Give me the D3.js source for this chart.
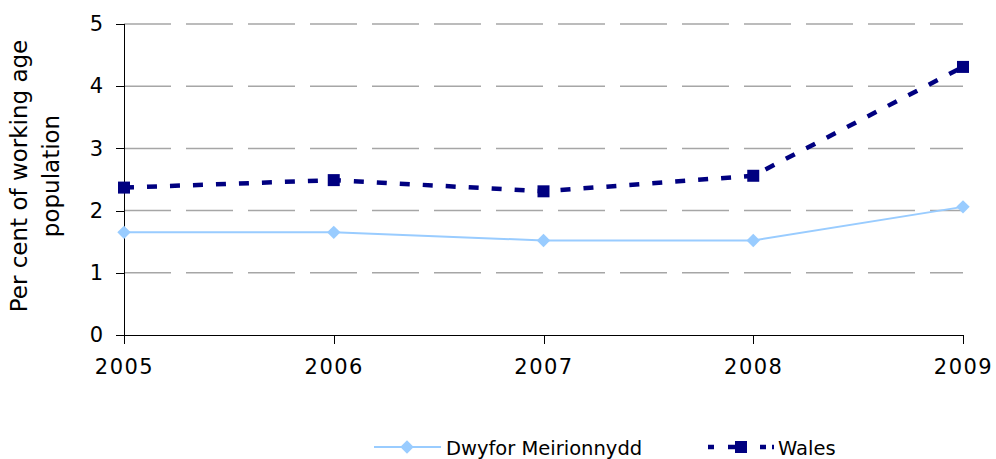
<!DOCTYPE html>
<html>
<head>
<meta charset="utf-8">
<script src="https://d3js.org/d3.v7.min.js"></script>
<style>
  body { margin: 0; background: #fff; }
  svg text { font-family: "DejaVu Sans", Verdana, sans-serif; fill: #000; }
  .grid line { stroke: #a6a6a6; stroke-width: 1.5; stroke-dasharray: 47,15; }
  .axis path, .axis line { stroke: #000; stroke-width: 1; shape-rendering: crispEdges; }
</style>
</head>
<body>
<svg id="chart" width="996" height="459"></svg>
<script>
// chart data
var years = ["2005", "2006", "2007", "2008", "2009"];
var dwyfor = [1.65, 1.65, 1.52, 1.52, 2.06];
var wales = [2.37, 2.49, 2.31, 2.56, 4.31];
var yTicks = [0, 1, 2, 3, 4, 5];

var svg = d3.select("#chart");
var plotL = 124, plotR = 963, plotT = 24, plotB = 335;

var x = d3.scalePoint().domain(years).range([plotL, plotR]);
var y = d3.scaleLinear().domain([0, 5]).range([plotB, plotT]);

// gridlines
svg.append("g").attr("class", "grid")
  .selectAll("line").data(yTicks.slice(1)).enter().append("line")
  .attr("x1", plotL).attr("x2", plotR)
  .attr("y1", function(d) { return y(d); })
  .attr("y2", function(d) { return y(d); });

// axes
var yAxis = svg.append("g").attr("class", "axis")
  .attr("transform", "translate(" + plotL + ",0)")
  .call(d3.axisLeft(y).tickValues(yTicks).tickFormat(d3.format("d"))
    .tickSize(8).tickPadding(13).tickSizeOuter(0));
yAxis.selectAll("text").style("font-size", "21px");

var xAxis = svg.append("g").attr("class", "axis")
  .attr("transform", "translate(0," + plotB + ")")
  .call(d3.axisBottom(x).tickSize(9).tickPadding(15).tickSizeOuter(0));
xAxis.select(".domain").attr("d", "M" + (plotL - 8) + ",0.5H" + plotR);
xAxis.selectAll("text").style("font-size", "21px").style("letter-spacing", "1.5px");
yAxis.select(".domain").attr("d", "M0.5," + plotT + "V" + (plotB + 9));

// y title
var title = svg.append("text")
  .attr("transform", "translate(0,176) rotate(-90)")
  .attr("text-anchor", "middle")
  .style("font-size", "23px");
title.append("tspan").attr("x", 0).attr("y", 27).text("Per cent of working age");
title.append("tspan").attr("x", 0).attr("y", 59).text("population");

// lines
var lineGen = function(vals) {
  return d3.line()
    .x(function(d, i) { return x(years[i]); })
    .y(function(d) { return y(d); })(vals);
};

svg.append("path")
  .attr("d", lineGen(dwyfor))
  .attr("fill", "none").attr("stroke", "#99ccff").attr("stroke-width", 2);

svg.append("path")
  .attr("d", lineGen(wales))
  .attr("fill", "none").attr("stroke", "#000080").attr("stroke-width", 4.5)
  .attr("stroke-dasharray", "10,13");

var diamond = d3.symbol().type(d3.symbolSquare).size(90);
svg.selectAll(".dmark").data(dwyfor).enter().append("path")
  .attr("d", diamond)
  .attr("transform", function(d, i) { return "translate(" + x(years[i]) + "," + y(d) + ") rotate(45)"; })
  .attr("fill", "#99ccff");

svg.selectAll(".wmark").data(wales).enter().append("rect")
  .attr("x", function(d, i) { return x(years[i]) - 6; })
  .attr("y", function(d) { return y(d) - 6; })
  .attr("width", 12).attr("height", 12)
  .attr("fill", "#000080");

// legend
var lg = svg.append("g");
lg.append("line").attr("x1", 374).attr("x2", 441).attr("y1", 447).attr("y2", 447)
  .attr("stroke", "#99ccff").attr("stroke-width", 2);
lg.append("path").attr("d", diamond)
  .attr("transform", "translate(407,447) rotate(45)").attr("fill", "#99ccff");
lg.append("text").attr("x", 446).attr("y", 455).style("font-size", "19.5px")
  .text("Dwyfor Meirionnydd");

lg.append("line").attr("x1", 708).attr("x2", 774).attr("y1", 447).attr("y2", 447)
  .attr("stroke", "#000080").attr("stroke-width", 4.5)
  .attr("stroke-dasharray", "6,14,18,14,6");
lg.append("rect").attr("x", 735).attr("y", 441).attr("width", 12).attr("height", 12)
  .attr("fill", "#000080");
lg.append("text").attr("x", 778).attr("y", 455).style("font-size", "19.5px")
  .text("Wales");
</script>
</body>
</html>
